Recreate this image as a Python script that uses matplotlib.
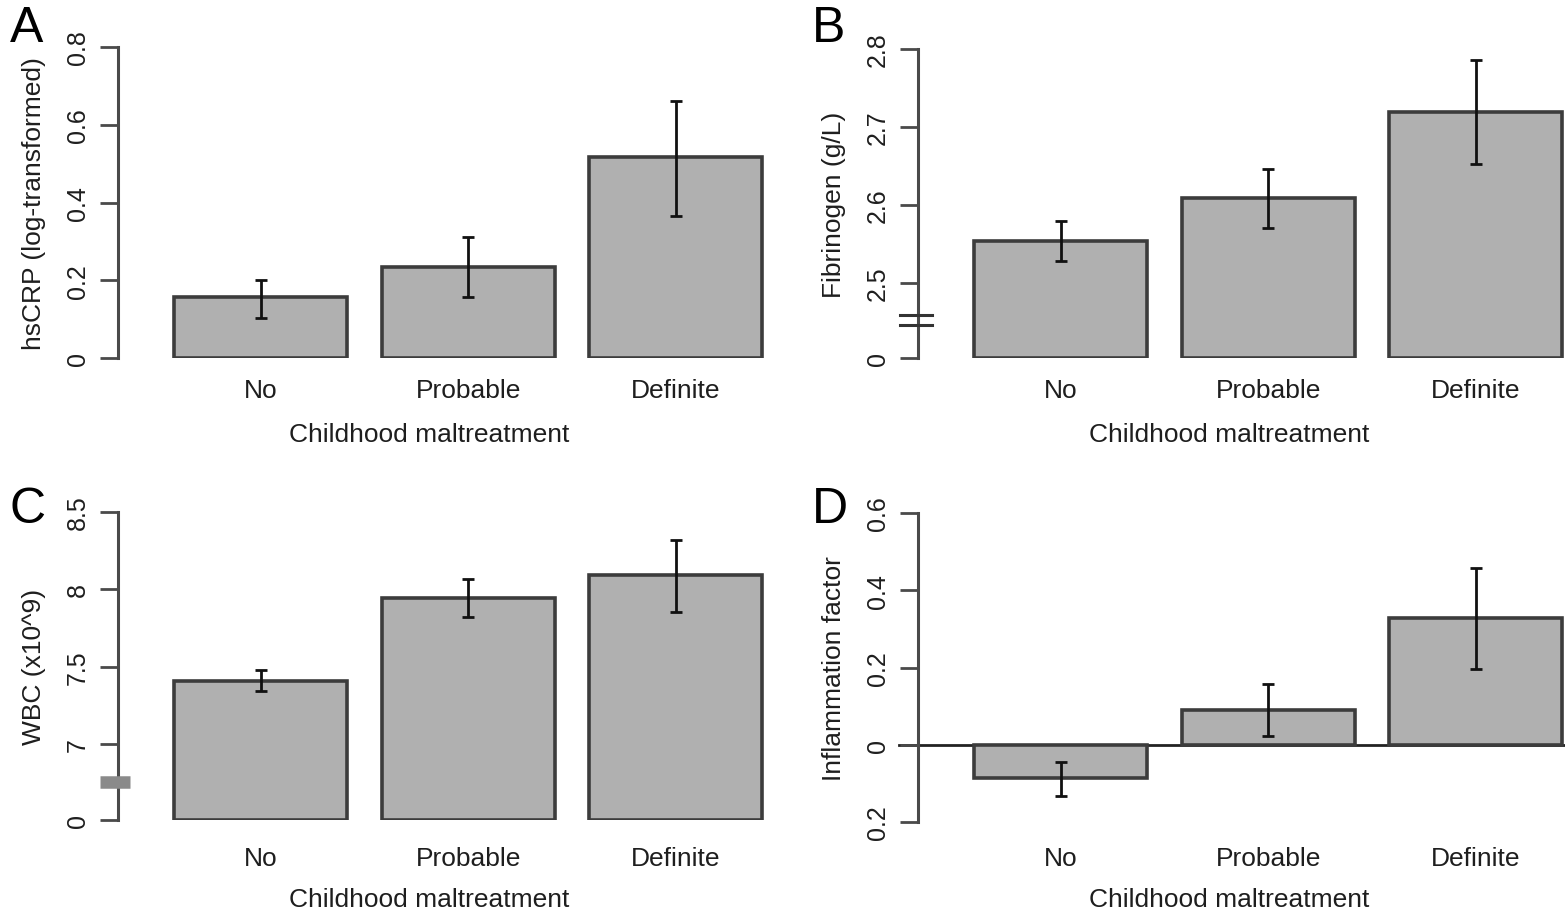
#!/usr/bin/env python3
"""plot.py - childhood maltreatment vs inflammation markers (4 panel barplot)."""
import numpy as np
import matplotlib
matplotlib.use("Agg")
import matplotlib.pyplot as plt
from matplotlib.transforms import blended_transform_factory

plt.rcParams["font.family"] = ["Liberation Sans", "DejaVu Sans"]

# ---- data -------------------------------------------------------------
groups = ["No", "Probable", "Definite"]

crp_mean = [0.157, 0.235, 0.517]
crp_lo   = [0.103, 0.157, 0.364]
crp_hi   = [0.200, 0.310, 0.661]

fib_mean = [2.554, 2.609, 2.719]
fib_lo   = [2.528, 2.571, 2.652]
fib_hi   = [2.579, 2.646, 2.786]

wbc_mean = [7.406, 7.945, 8.090]
wbc_lo   = [7.342, 7.819, 7.852]
wbc_hi   = [7.477, 8.065, 8.316]

inf_mean = [-0.086, 0.091, 0.327]
inf_lo   = [-0.132, 0.023, 0.195]
inf_hi   = [-0.044, 0.156, 0.457]

crp_ticks = [0, 0.2, 0.4, 0.6, 0.8]
crp_ticklabels = ["0", "0.2", "0.4", "0.6", "0.8"]
fib_ticks = [0, 2.5, 2.6, 2.7, 2.8]
fib_ticklabels = ["0", "2.5", "2.6", "2.7", "2.8"]
wbc_ticks = [0, 7, 7.5, 8, 8.5]
wbc_ticklabels = ["0", "7", "7.5", "8", "8.5"]
inf_ticks = [-0.2, 0, 0.2, 0.4, 0.6]
inf_ticklabels = ["0.2", "0", "0.2", "0.4", "0.6"]

# ---- style ------------------------------------------------------------
W, H, DPI = 1565, 912, 100
BAR_FILL = "#b0b0b0"
BAR_EDGE = "#3c3c3c"
AXIS_COL = "#4a4a4a"
TEXT = "#1e1e1e"
XPOS = np.array([0.7, 1.9, 3.1])
PX_PER_UNIT = 173.0
XLIM = (-0.125, 3.625)
FS = 19


def broken_scale(lo, base):
    """Linear above `lo`; 0..lo squeezed into base..lo (axis break)."""
    k = (lo - base) / lo

    def fwd(y):
        y = np.asarray(y, dtype=float)
        return np.where(y >= lo, y, base + y * k)

    def inv(t):
        t = np.asarray(t, dtype=float)
        return np.where(t >= lo, t, (t - base) / k)

    return fwd, inv


def make_ax(fig, x0, y_top, y_bot):
    w = (XLIM[1] - XLIM[0]) * PX_PER_UNIT
    return fig.add_axes([x0 / W, 1 - y_bot / H, w / W, (y_bot - y_top) / H])


def panel(ax, mean, lo, hi, ticks, ticklabels, ylabel, ylim,
          cat_pad, xlab_pad):
    mean = np.asarray(mean)
    err = [mean - np.asarray(lo), np.asarray(hi) - mean]
    ax.bar(XPOS, mean, width=1.0, color=BAR_FILL, edgecolor=BAR_EDGE,
           linewidth=2.6, zorder=2)
    ax.errorbar(XPOS, mean, yerr=err, fmt="none", ecolor="#111111",
                elinewidth=2.0, capsize=4.5, capthick=2.0, zorder=3)
    ax.set_xlim(*XLIM)
    ax.set_ylim(*ylim)

    for s in ("top", "right", "bottom"):
        ax.spines[s].set_visible(False)
    ax.spines["left"].set_color(AXIS_COL)
    ax.spines["left"].set_linewidth(2.2)

    ax.set_yticks(ticks)
    ax.set_yticklabels(ticklabels, rotation=90, va="center")
    ax.tick_params(axis="y", length=13, width=2.0, color=AXIS_COL,
                   labelsize=18, labelcolor=TEXT, pad=7.5)
    ax.set_xticks(XPOS)
    ax.set_xticklabels(groups)
    ax.tick_params(axis="x", length=0, labelsize=FS, labelcolor=TEXT,
                   pad=cat_pad)
    ax.set_xlabel("Childhood maltreatment", fontsize=FS, color=TEXT,
                  labelpad=xlab_pad)
    ax.xaxis.label.set_x(0.479)
    ax.set_ylabel(ylabel, fontsize=FS, color=TEXT, labelpad=14)


def break_lines(ax, ys):
    tr = blended_transform_factory(ax.transAxes, ax.transData)
    for yy in ys:
        ax.plot([-0.028, 0.022], [yy, yy], transform=tr, color="#333333",
                lw=2.2, clip_on=False, zorder=5)


def break_block(ax, y):
    tr = blended_transform_factory(ax.transAxes, ax.transData)
    ax.plot([-0.027, 0.018], [y, y], transform=tr, color="#8a8a8a",
            lw=9, solid_capstyle="butt", clip_on=False, zorder=5)


fig = plt.figure(figsize=(W / DPI, H / DPI), dpi=DPI)
fig.patch.set_facecolor("white")

# A: hsCRP
axA = make_ax(fig, 118, 48, 359)
panel(axA, crp_mean, crp_lo, crp_hi, crp_ticks, crp_ticklabels,
      "hsCRP (log-transformed)", (0, 0.8), 14.5, 14)

# B: fibrinogen, broken axis
axB = make_ax(fig, 918, 50, 359)
fwdB, invB = broken_scale(2.5, 2.404)
axB.set_yscale("function", functions=(fwdB, invB))
panel(axB, fib_mean, fib_lo, fib_hi, fib_ticks, fib_ticklabels,
      "Fibrinogen (g/L)", (0, 2.8), 14.5, 14)
break_lines(axB, [1.1, 1.42])

# C: WBC, broken axis
axC = make_ax(fig, 118, 513, 821)
fwdC, invC = broken_scale(7.0, 6.51)
axC.set_yscale("function", functions=(fwdC, invC))
panel(axC, wbc_mean, wbc_lo, wbc_hi, wbc_ticks, wbc_ticklabels,
      "WBC (x10^9)", (0, 8.5), 19, 12)
break_block(axC, 3.5)

# D: inflammation factor
axD = make_ax(fig, 918, 514, 823)
panel(axD, inf_mean, inf_lo, inf_hi, inf_ticks, inf_ticklabels,
      "Inflammation factor", (-0.2, 0.6), 17.5, 12)
axD.axhline(0, xmin=-0.03, xmax=1.0, color="#222222", lw=2.0,
            clip_on=False, zorder=1)

# panel letters (pixel centres)
for letter, px, py in [("A", 27, 29), ("B", 829, 29),
                       ("C", 28, 510), ("D", 830, 510)]:
    fig.text(px / W, 1 - py / H, letter, fontsize=36, color="#000000",
             ha="center", va="center")

fig.savefig("out.png", dpi=DPI, facecolor="white")
